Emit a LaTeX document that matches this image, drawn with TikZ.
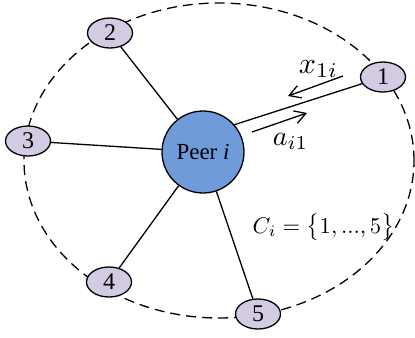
\documentclass[tikz,border=0pt]{standalone}
\usepackage[no-math]{fontspec}
\setmainfont{Liberation Serif}
\usetikzlibrary{arrows.meta,shapes.geometric}
\definecolor{peerblue}{RGB}{112,155,218}
\definecolor{nodelav}{RGB}{211,203,226}
\begin{document}
\begin{tikzpicture}[x=0.5pt,y=-0.5pt, line width=0.65pt,
  member/.style={ellipse,draw,fill=nodelav,minimum width=22.5pt,minimum height=15pt,inner sep=0pt,font=\fontsize{12}{14}\selectfont},
  peer/.style={circle,draw,fill=peerblue,minimum size=41pt,inner sep=0pt,font=\fontsize{11.5}{13}\selectfont},
  flow/.style={-{Straight Barb[length=5.5pt,width=6.5pt]}},
  ring/.style={dash pattern=on 5pt off 3pt},
  lbl/.style={anchor=base west,inner sep=0pt}]
\useasboundingbox (0,0) rectangle (415,337);
\draw[ring] (219,160.5) ellipse [x radius=97.5pt, y radius=78.75pt];
\node[peer] (peer) at (203,152) {Peer \textit{i}};
\node[member] (n1) at (383,77) {1};
\node[member] (n2) at (110,33) {2};
\node[member] (n3) at (28,141) {3};
\node[member] (n4) at (109,282) {4};
\node[member] (n5) at (258,314) {5};
\draw (peer) -- (n2);
\draw (peer) -- (n3);
\draw (peer) -- (n4);
\draw (peer) -- (n5);
\draw (peer.41) -- (n1);
\coordinate (xs) at (343,76);
\coordinate (xe) at (288,96);
\draw[flow] (xs) -- (xe);
\coordinate (as) at (252,132);
\coordinate (ae) at (307,113);
\draw[flow] (as) -- (ae);
\node[lbl,scale=1.5] (xl) at (298,73) {$x_{1i}$};
\node[lbl,scale=1.4] (al) at (272,145) {$a_{i1}$};
\node[lbl,scale=1.13] (cl) at (252,233) {$C_i = \bigl\{1,...,5\bigr\}$};
\end{tikzpicture}
\end{document}
